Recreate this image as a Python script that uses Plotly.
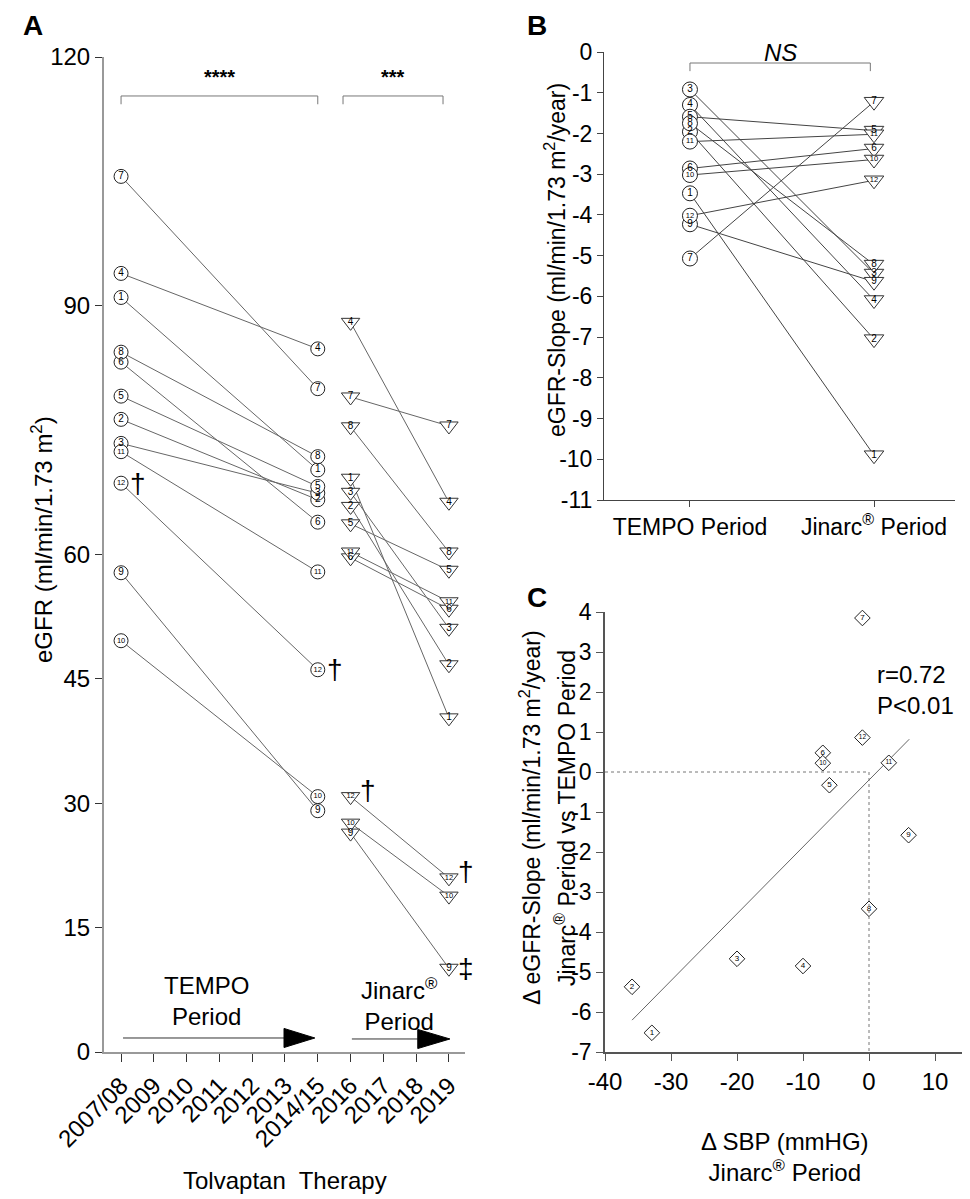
import numpy as np
import plotly.graph_objects as go

W, H = 970, 1199
OFF = 8  # browser body margin
def px(x): return (x - OFF) / W
def py(y): return 1 - (y - OFF) / H

FONT = "Liberation Sans, Arial, sans-serif"

# ---------------- data ----------------
patients = [1, 2, 3, 4, 5, 6, 7, 8, 9, 10, 11, 12]
years = ["2007/08", "2009", "2010", "2011", "2012", "2013", "2014/15",
         "2016", "2017", "2018", "2019"]
# Panel A: eGFR (ml/min/1.73 m2)
egfr_2007_08 = [91.0, 76.3, 73.4, 93.9, 79.1, 83.2, 105.6, 84.4, 57.8, 49.6, 72.4, 68.6]
egfr_2014_15 = [70.2, 66.6, 67.4, 84.8, 68.2, 63.9, 80.0, 71.8, 29.1, 30.8, 57.9, 46.1]
egfr_2016 = [69.2, 65.8, 67.5, 88.0, 63.7, 59.6, 79.0, 75.4, 26.4, 27.6, 60.3, 30.8]
egfr_2019 = [40.3, 46.7, 51.1, 66.3, 58.1, 53.4, 75.5, 60.3, 10.1, 18.8, 54.3, 21.0]
a_yticks = [0, 15, 30, 45, 60, 90, 120]

# Panel B: eGFR slope (ml/min/1.73 m2/year)
b_periods = ["TEMPO Period", "Jinarc<sup>®</sup> Period"]
b_yticks = [0, -1, -2, -3, -4, -5, -6, -7, -8, -9, -10, -11]
slope_tempo = [-3.47, -1.96, -0.92, -1.30, -1.59, -2.86, -5.07, -1.75, -4.23, -3.02, -2.20, -4.02]
slope_jinarc = [-9.90, -7.05, -5.44, -6.09, -1.93, -2.37, -1.22, -5.22, -5.64, -2.64, -2.02, -3.15]

# Panel C: delta SBP vs delta slope
c_xticks = [-40, -30, -20, -10, 0, 10]
c_yticks = [4, 3, 2, 1, 0, -1, -2, -3, -4, -5, -6, -7]
d_sbp = [-32.9, -35.9, -20.0, -10.0, -6.0, -7.0, -1.0, 0.0, 6.0, -7.0, 3.0, -1.0]
d_slope = [-6.52, -5.37, -4.67, -4.85, -0.33, 0.48, 3.85, -3.42, -1.58, 0.22, 0.23, 0.86]

labels = [str(p) for p in patients]
lab_size = [10 if p < 10 else 7.5 for p in patients]

i0, i1, i2, i3 = years.index("2007/08"), years.index("2014/15"), years.index("2016"), years.index("2019")

fig = go.Figure()

# ---- Panel A ----
xa, ya = [], []
for k in range(len(patients)):
    xa += [i0, i1, None, i2, i3, None]
    ya += [egfr_2007_08[k], egfr_2014_15[k], None, egfr_2016[k], egfr_2019[k], None]
fig.add_trace(go.Scatter(x=xa, y=ya, mode="lines", line=dict(color="#666666", width=1),
                         xaxis="x", yaxis="y", hoverinfo="skip", showlegend=False))
fig.add_trace(go.Scatter(
    x=[i0] * 12 + [i1] * 12, y=egfr_2007_08 + egfr_2014_15, mode="markers+text",
    text=labels * 2, textposition="middle center",
    textfont=dict(size=lab_size * 2, color="black", family=FONT),
    marker=dict(symbol="circle", size=14, color="white", line=dict(color="#222", width=1)),
    xaxis="x", yaxis="y", showlegend=False, cliponaxis=False))
fig.add_trace(go.Scatter(
    x=[i2] * 12 + [i3] * 12, y=egfr_2016 + egfr_2019, mode="markers+text",
    text=labels * 2, textposition="middle center",
    textfont=dict(size=lab_size * 2, color="black", family=FONT),
    marker=dict(symbol="triangle-down", size=16, color="white", line=dict(color="#333", width=1)),
    xaxis="x", yaxis="y", showlegend=False, cliponaxis=False))

# ---- Panel B ----
xb, yb = [], []
for k in range(len(patients)):
    xb += [0, 1, None]
    yb += [slope_tempo[k], slope_jinarc[k], None]
fig.add_trace(go.Scatter(x=xb, y=yb, mode="lines", line=dict(color="#444", width=1),
                         xaxis="x2", yaxis="y2", hoverinfo="skip", showlegend=False))
fig.add_trace(go.Scatter(
    x=[0] * 12, y=slope_tempo, mode="markers+text", text=labels, textposition="middle center",
    textfont=dict(size=lab_size, color="black", family=FONT),
    marker=dict(symbol="circle", size=15, color="white", line=dict(color="#222", width=1)),
    xaxis="x2", yaxis="y2", showlegend=False, cliponaxis=False))
fig.add_trace(go.Scatter(
    x=[1] * 12, y=slope_jinarc, mode="markers+text", text=labels, textposition="middle center",
    textfont=dict(size=lab_size, color="black", family=FONT),
    marker=dict(symbol="triangle-down", size=17, color="white", line=dict(color="#333", width=1)),
    xaxis="x2", yaxis="y2", showlegend=False, cliponaxis=False))

# ---- Panel C ----
slope, intercept = np.polyfit(d_sbp, d_slope, 1)
xr = np.array([min(d_sbp), max(d_sbp) + 0.1])
fig.add_trace(go.Scatter(x=xr, y=slope * xr + intercept, mode="lines",
                         line=dict(color="#666", width=1), xaxis="x3", yaxis="y3",
                         hoverinfo="skip", showlegend=False))
fig.add_trace(go.Scatter(
    x=d_sbp, y=d_slope, mode="markers+text", text=labels, textposition="middle center",
    textfont=dict(size=[8 if p < 10 else 6.5 for p in patients], color="black", family=FONT),
    marker=dict(symbol="diamond", size=12, color="white", line=dict(color="#222", width=1)),
    xaxis="x3", yaxis="y3", showlegend=False, cliponaxis=False))

def axis(**kw):
    d = dict(showgrid=False, zeroline=False, showline=True, ticks="outside",
             automargin=False, tickfont=dict(size=24, color="black", family=FONT))
    d.update(kw)
    return d

fig.update_layout(
    template="none",
    width=W, height=H, autosize=False,
    margin=dict(l=0, r=0, t=0, b=0, pad=0),
    paper_bgcolor="white", plot_bgcolor="white",
    font=dict(family=FONT, color="black", size=24),
    xaxis=axis(domain=[px(104), px(465)], range=[-0.52, 10.49],
               tickvals=list(range(len(years))), ticktext=years, tickangle=-45,
               linecolor="#999", linewidth=2, tickcolor="#333", ticklen=8, anchor="y"),
    yaxis=axis(domain=[py(1052), py(57)], range=[0, 120],
               tickvals=a_yticks, ticktext=[str(v) for v in a_yticks],
               linecolor="#999", linewidth=2, tickcolor="#333", ticklen=7, anchor="x"),
    xaxis2=axis(domain=[px(604), px(955)], range=[-0.467, 1.44],
                tickvals=[0, 1], ticktext=b_periods, linecolor="#444", linewidth=1,
                tickcolor="#444", ticklen=6, anchor="y2",
                tickfont=dict(size=23, color="black", family=FONT)),
    yaxis2=axis(domain=[py(500), py(52)], range=[-11, 0],
                tickvals=b_yticks, ticktext=[str(v) for v in b_yticks],
                linecolor="#444", linewidth=1, tickcolor="#444", ticklen=6, anchor="x2",
                tickfont=dict(size=23, color="black", family=FONT)),
    xaxis3=axis(domain=[px(605), px(968)], range=[-40, 15],
                tickvals=c_xticks, ticktext=[str(v) for v in c_xticks],
                linecolor="#555", linewidth=1.5, tickcolor="#555", ticklen=7, anchor="y3"),
    yaxis3=axis(domain=[py(1052), py(612)], range=[-7, 4],
                tickvals=c_yticks, ticktext=[str(v) for v in c_yticks],
                linecolor="#555", linewidth=1.5, tickcolor="#555", ticklen=7, anchor="x3",
                tickfont=dict(size=23, color="black", family=FONT)),
)

shapes = []
for (xs, xe) in [(i0, i1), (6.77, 9.82)]:
    shapes.append(dict(type="path", xref="x", yref="y",
                       path=f"M {xs},114.3 L {xs},115.3 L {xe},115.3 L {xe},114.3",
                       line=dict(color="#777", width=1)))
shapes.append(dict(type="path", xref="x2", yref="y2",
                   path="M 0,-0.47 L 0,-0.27 L 0.98,-0.27 L 0.98,-0.47",
                   line=dict(color="#777", width=1)))
for (xs, xb0, xt, yv) in [(0.06, 4.97, 5.91, 1.69), (7.04, 9.05, 10.03, 1.57)]:
    shapes.append(dict(type="line", xref="x", yref="y", x0=xs, x1=xb0, y0=yv, y1=yv,
                       line=dict(color="#333", width=1)))
    shapes.append(dict(type="path", xref="x", yref="y",
                       path=f"M {xb0},{yv-1.15} L {xt},{yv} L {xb0},{yv+1.15} Z",
                       fillcolor="black", line=dict(color="black", width=1)))
shapes.append(dict(type="line", xref="x3", yref="y3", x0=-40, x1=0, y0=0, y1=0,
                   line=dict(color="#777", width=1, dash="dot")))
shapes.append(dict(type="line", xref="x3", yref="y3", x0=0, x1=0, y0=0, y1=-7,
                   line=dict(color="#777", width=1, dash="dot")))
fig.update_layout(shapes=shapes)

ann = []
def A(**kw):
    d = dict(showarrow=False, xanchor="center", yanchor="middle",
             font=dict(family=FONT, size=24, color="black"))
    d.update(kw)
    ann.append(d)

A(text="<b>A</b>", x=px(33), y=py(25), xref="paper", yref="paper", font=dict(family=FONT, size=28))
A(text="<b>B</b>", x=px(537), y=py(25), xref="paper", yref="paper", font=dict(family=FONT, size=28))
A(text="<b>C</b>", x=px(537), y=py(597), xref="paper", yref="paper", font=dict(family=FONT, size=28))

A(text="eGFR (ml/min/1.73 m<sup>2</sup>)", x=px(42), y=py(540), xref="paper", yref="paper", textangle=-90)
A(text="Tolvaptan  Therapy", x=px(285), y=py(1180), xref="paper", yref="paper")
A(text="eGFR-Slope (ml/min/1.73 m<sup>2</sup>/year)", x=px(555), y=py(260), xref="paper", yref="paper",
  textangle=-90, font=dict(family=FONT, size=23))
A(text="Δ eGFR-Slope (ml/min/1.73 m<sup>2</sup>/year)", x=px(530), y=py(818),
  xref="paper", yref="paper", textangle=-90, font=dict(family=FONT, size=23))
A(text="Jinarc<sup>®</sup> Period vs TEMPO Period", x=px(565), y=py(818),
  xref="paper", yref="paper", textangle=-90, font=dict(family=FONT, size=23))
A(text="Δ SBP (mmHG)<br>Jinarc<sup>®</sup> Period", x=px(785), y=py(1157), xref="paper", yref="paper")

A(text="<b>****</b>", x=(i0 + i1) / 2, y=117.6, xref="x", yref="y", font=dict(family=FONT, size=20))
A(text="<b>***</b>", x=(6.77 + 9.82) / 2, y=117.6, xref="x", yref="y", font=dict(family=FONT, size=20))
A(text="<i>NS</i>", x=0.49, y=0.0, xref="x2", yref="y2", font=dict(family=FONT, size=24))

A(text="TEMPO<br>Period", x=2.62, y=6.2, xref="x", yref="y")
A(text="Jinarc<sup>®</sup><br>Period", x=8.5, y=5.7, xref="x", yref="y")

k12 = patients.index(12)
k9 = patients.index(9)
for (xi, yv, dy) in [(i0, egfr_2007_08[k12], 0), (i1, egfr_2014_15[k12], 0),
                     (i2, egfr_2016[k12], 6), (i3, egfr_2019[k12], 6)]:
    A(text="†", x=xi, y=yv, xref="x", yref="y", xshift=17, yshift=dy, font=dict(family=FONT, size=28))
A(text="‡", x=i3, y=egfr_2019[k9], xref="x", yref="y", xshift=17, font=dict(family=FONT, size=28))

A(text="r=0.72<br>P&lt;0.01", x=px(875), y=py(690), xref="paper", yref="paper",
  xanchor="left", align="left")

fig.update_layout(annotations=ann)
fig.write_html("out.html")
